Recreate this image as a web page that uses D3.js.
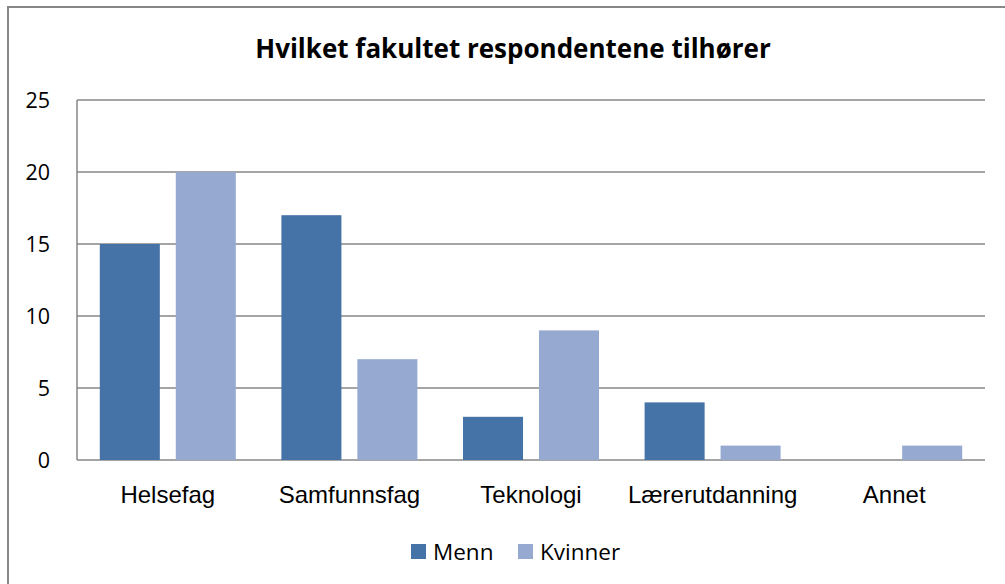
<!DOCTYPE html>
<html>
<head>
<meta charset="utf-8">
<script src="https://cdn.jsdelivr.net/npm/d3@7"></script>
<style>
  body { margin: 0; background: #fff; }
  svg { font-family: "Open Sans", sans-serif; }
</style>
</head>
<body>
<div id="chart"></div>
<script>
// data
var categories = ["Helsefag", "Samfunnsfag", "Teknologi", "Lærerutdanning", "Annet"];
var seriesNames = ["Menn", "Kvinner"];
var menn = [15, 17, 3, 4, 0];
var kvinner = [20, 7, 9, 1, 1];
var yTicks = [0, 5, 10, 15, 20, 25];
var colors = ["#4572a7", "#95a9d1"];

var W = 1005, H = 584;
var margin = {top: 100, left: 77},
  width = 985 - margin.left,
  height = 460 - margin.top;
var fontSize = 22.5;

var svg = d3.select("#chart").append("svg")
  .attr("width", W)
  .attr("height", H);

// outer frame, cut off on the right and bottom like the screenshot
svg.append("rect")
  .attr("x", 8).attr("y", 7)
  .attr("width", W + 10).attr("height", H + 10)
  .attr("fill", "#fff")
  .attr("stroke", "#878787")
  .attr("stroke-width", 2);

svg.append("text")
  .attr("x", 513).attr("y", 58)
  .attr("text-anchor", "middle")
  .attr("font-weight", "bold")
  .attr("font-size", 26)
  .text("Hvilket fakultet respondentene tilhører");

var g = svg.append("g")
  .attr("transform", "translate(" + margin.left + "," + margin.top + ")");

var x0 = d3.scaleBand().domain(categories).range([0, width]);
var x1 = d3.scaleBand().domain(seriesNames).range([22.8, x0.bandwidth() - 22.8]).paddingInner(0.21);
var y = d3.scaleLinear().domain([0, 25]).range([height, 0]);

// gridlines
g.selectAll(".grid")
  .data(yTicks)
  .enter().append("line")
    .attr("x1", 0).attr("x2", width)
    .attr("y1", function(d){ return y(d); })
    .attr("y2", function(d){ return y(d); })
    .attr("stroke", "#878787")
    .attr("stroke-width", 1.5);

g.append("line")
  .attr("x1", 0).attr("x2", 0)
  .attr("y1", 0).attr("y2", height)
  .attr("stroke", "#878787")
  .attr("stroke-width", 1.5);

// y labels
var yAxis = d3.axisLeft(y).tickValues(yTicks).tickSize(0).tickPadding(27);
g.append("g").call(yAxis)
  .attr("font-family", null)
  .call(function(s){ s.select(".domain").remove(); })
  .selectAll("text")
    .attr("font-size", 21.5)
    .attr("dy", "0.36em")
    .attr("fill", "#000");

// bars
var rows = categories.map(function(c, i){ return {cat: c, vals: [menn[i], kvinner[i]]}; });
var groups = g.selectAll(".cat")
  .data(rows)
  .enter().append("g")
    .attr("transform", function(d){ return "translate(" + x0(d.cat) + ",0)"; });

groups.selectAll("rect")
  .data(function(d){ return d.vals.map(function(v, j){ return {name: seriesNames[j], v: v, j: j}; }); })
  .enter().append("rect")
    .filter(function(d){ return d.v > 0; })
    .attr("x", function(d){ return x1(d.name); })
    .attr("width", x1.bandwidth())
    .attr("y", function(d){ return y(d.v); })
    .attr("height", function(d){ return height - y(d.v); })
    .attr("fill", function(d){ return colors[d.j]; });

// x labels
var xAxis = d3.axisBottom(x0).tickSize(0).tickPadding(0);
g.append("g")
  .attr("transform", "translate(0," + height + ")")
  .attr("font-family", null)
  .call(xAxis)
  .call(function(s){ s.select(".domain").remove(); })
  .selectAll("text")
    .attr("font-size", 24)
    .attr("dy", null)
    .attr("y", 43)
    .attr("fill", "#000");

// legend
var legendX = [411, 518];
var legend = svg.selectAll(".legend")
  .data(seriesNames)
  .enter().append("g")
    .attr("transform", function(d, i){ return "translate(" + legendX[i] + ",544)"; });
legend.append("rect")
  .attr("width", 15).attr("height", 15)
  .attr("fill", function(d, i){ return colors[i]; });
legend.append("text")
  .attr("x", 22).attr("y", 16)
  .attr("font-size", fontSize)
  .text(function(d){ return d; });
</script>
</body>
</html>
